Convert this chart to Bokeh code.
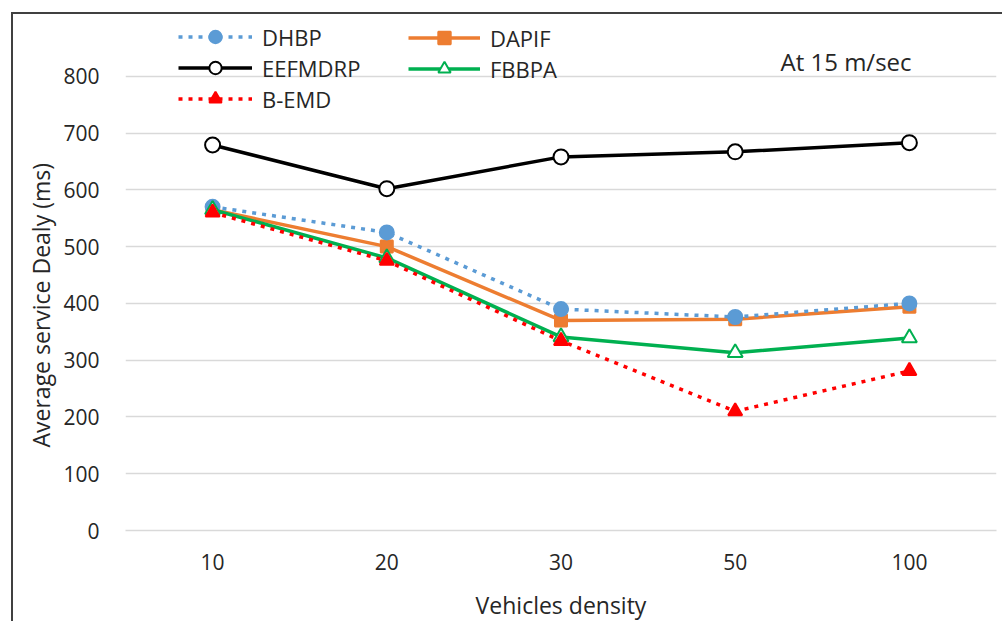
from bokeh.plotting import figure
from bokeh.models import FactorRange, Range1d, FixedTicker, Legend, LegendItem, Label, Title
from bokeh.embed import file_html
from bokeh.resources import INLINE

densities = ["10", "20", "30", "50", "100"]
dhbp = [570, 525, 390, 376, 400]
dapif = [565, 500, 370, 372, 394]
eefmdrp = [679, 602, 658, 667, 683]
fbbpa = [565, 480, 341, 313, 339]
bemd = [560, 475, 334, 210, 281]
y_ticks = [0, 100, 200, 300, 400, 500, 600, 700, 800]

FONT = "Open Sans"
GRID = "#D9D9D9"
TXT = "#262626"

p = figure(width=991, height=609, x_range=FactorRange(*densities),
           y_range=Range1d(0, 900), output_backend="svg", toolbar_location=None,
           min_border_left=112, min_border_right=8, min_border_top=5, min_border_bottom=90,
           margin=(12, 0, 0, 11),
           styles={"border-left": "2px solid #404040", "border-top": "2px solid #404040"})
p.outline_line_color = None
p.xgrid.grid_line_color = None
p.ygrid.grid_line_color = GRID
p.ygrid.grid_line_width = 1.5
p.yaxis.ticker = FixedTicker(ticks=y_ticks)
p.yaxis.axis_line_color = None
p.yaxis.major_tick_line_color = None
p.yaxis.minor_tick_line_color = None
p.yaxis.major_label_standoff = 20
p.xaxis.axis_line_color = GRID
p.xaxis.axis_line_width = 1.5
p.xaxis.major_tick_line_color = None
p.xaxis.minor_tick_line_color = None
p.xaxis.major_label_standoff = 17
p.xaxis.axis_label = "Vehicles density"
p.xaxis.axis_label_standoff = 16
for ax in (p.xaxis[0], p.yaxis[0]):
    ax.major_label_text_font = FONT
    ax.major_label_text_font_size = "21px"
    ax.major_label_text_color = TXT
    ax.axis_label_text_font = FONT
    ax.axis_label_text_font_size = "23px"
    ax.axis_label_text_font_style = "normal"
    ax.axis_label_text_color = TXT

# y-axis title, placed as in the reference (a little below the frame centre)
p.add_layout(Title(text="Average service Dealy (ms)", align="left", offset=83,
                   standoff=8, text_font=FONT, text_font_size="23px",
                   text_font_style="normal", text_color=TXT), "left")

def series(vals, color, dash, marker, fill, size):
    ln = p.line(densities, vals, line_color=color, line_width=3.5, line_dash=dash)
    sc = p.scatter(densities, vals, marker=marker, size=size, line_color=color,
                   fill_color=fill, line_width=2)
    return [ln, sc]

r_eef = series(eefmdrp, "black", "solid", "circle", "white", 15)
r_dapif = series(dapif, "#ED7D31", "solid", "square", "#ED7D31", 12)
r_dhbp = series(dhbp, "#5B9BD5", "4 6", "circle", "#5B9BD5", 14)
r_fb = series(fbbpa, "#00B050", "solid", "triangle", "white", 15)
r_bemd = series(bemd, "#FF0000", "4 6", "triangle", "#FF0000", 14)

def mk_legend(items, loc, gw):
    lg = Legend(items=items, location=loc, orientation="vertical",
                glyph_width=gw, glyph_height=31, label_height=30, spacing=0,
                padding=0, margin=0, label_standoff=10,
                border_line_color=None, background_fill_alpha=0,
                label_text_font=FONT, label_text_font_size="22px", label_text_color=TXT)
    p.add_layout(lg, "center")

mk_legend([LegendItem(label="DHBP", renderers=r_dhbp),
           LegendItem(label="EEFMDRP", renderers=r_eef),
           LegendItem(label="B-EMD", renderers=r_bemd)], (53, 416), 74)
mk_legend([LegendItem(label="DAPIF", renderers=r_dapif),
           LegendItem(label="FBBPA", renderers=r_fb)], (283, 446), 72)

p.add_layout(Label(x=3.76, y=826, text="At 15 m/sec", text_font=FONT,
                   text_font_size="24px", text_color=TXT, text_baseline="middle"))

open("out.html", "w").write(file_html(p, INLINE))
